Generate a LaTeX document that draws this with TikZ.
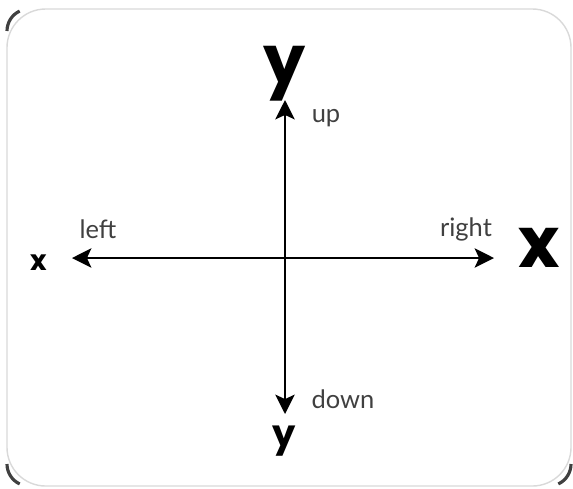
\documentclass[tikz,border=0pt]{standalone}
\usepackage{fontspec}
\setmainfont{Lato}
\newfontfamily\bigfont{Poppins}
\usetikzlibrary{arrows.meta}

\tikzset{
    axis/.style={line width=1.4pt, -{Stealth[length=11pt, width=11pt, inset=2.5pt]}},
    dirlabel/.style={font=\fontsize{14.5}{14.5}\selectfont, text=black!75},
    axlabel/.style={font=\bigfont\bfseries, inner sep=0pt},
    corner/.style={black!75, line width=1.8pt},
}

\begin{document}
\begin{tikzpicture}[x=0.02cm, y=-0.02cm]
    \useasboundingbox (0,0) rectangle (573,488);

    % Card
    \draw[black!15, line width=0.8pt, rounded corners=22] (7,9) rectangle (571,486);
    \draw[corner] (7,31) arc[start angle=180, end angle=245, radius=22];
    \draw[corner] (7,464) arc[start angle=180, end angle=115, radius=22];
    \draw[corner] (571,464) arc[start angle=0, end angle=65, radius=22];

    % Axes
    \coordinate (cen) at (285,258);
    \coordinate (ytop) at (285,100);
    \coordinate (ybot) at (285,414);
    \coordinate (xlft) at (72,258);
    \coordinate (xrgt) at (494,258);
    \foreach \tip in {ytop, ybot, xlft, xrgt} {
        \draw[axis] (cen) -- (\tip);
    }

    % Direction labels
    \node[dirlabel] (up) at (326,118) {up};
    \node[dirlabel] (down) at (343,399) {down};
    \node[dirlabel] (left) at (98,229) {left};
    \node[dirlabel] (right) at (466,229) {right};

    % Axis letters
    \node[axlabel, font=\bigfont\bfseries\fontsize{38}{38}\selectfont] (ybig) at (285,74) {y};
    \node[axlabel, font=\bigfont\bfseries\fontsize{21}{21}\selectfont] (ysml) at (284,441) {y};
    \node[axlabel, font=\bigfont\bfseries\fontsize{16}{16}\selectfont] (xsml) at (39,263) {x};
    \node[axlabel, font=\bigfont\bfseries\fontsize{40}{40}\selectfont] (xbig) at (539,248) {x};
\end{tikzpicture}
\end{document}
